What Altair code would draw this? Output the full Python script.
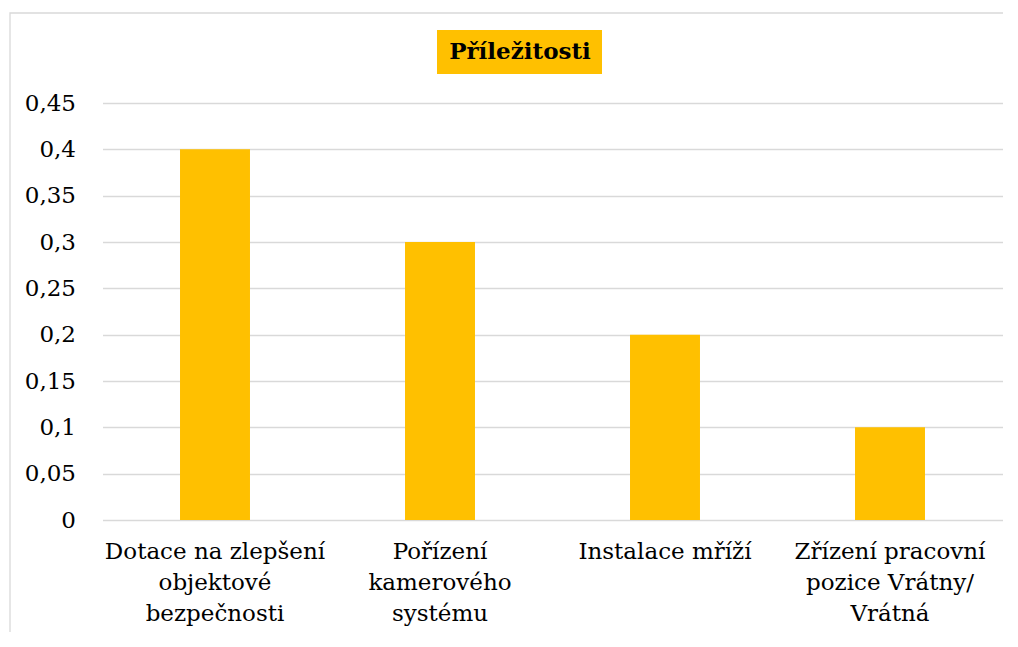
import altair as alt
import pandas as pd

categories = [
    "Dotace na zlepšení|objektové|bezpečnosti",
    "Pořízení|kamerového|systému",
    "Instalace mříží",
    "Zřízení pracovní|pozice Vrátny/|Vrátná",
]
values = [0.4, 0.3, 0.2, 0.1]
y_ticks = [0, 0.05, 0.1, 0.15, 0.2, 0.25, 0.3, 0.35, 0.4, 0.45]
title_text = "Příležitosti"

FONT = "DejaVu Serif"
BAR = "#FFC000"

df = pd.DataFrame({"cat": categories, "val": values})
one = pd.DataFrame({"t": [title_text]})

bars = alt.Chart(df).mark_bar(color=BAR).encode(
    x=alt.X(
        "cat:N",
        sort=categories,
        title=None,
        scale=alt.Scale(paddingInner=0.689, paddingOuter=0.3445),
        axis=alt.Axis(
            labelAngle=0,
            labelExpr="split(datum.label, '|')",
            labelFont=FONT,
            labelFontSize=23,
            labelColor="#000000",
            labelLineHeight=31,
            labelPadding=20,
            ticks=False,
            domain=False,
            labelLimit=400,
        ),
    ),
    y=alt.Y(
        "val:Q",
        title=None,
        scale=alt.Scale(domain=[0, 0.45], nice=False),
        axis=alt.Axis(
            values=y_ticks,
            labelExpr="replace(format(datum.value, '~g'), '.', ',')",
            labelFont=FONT,
            labelFontSize=23,
            labelColor="#000000",
            labelPadding=27,
            ticks=False,
            domain=False,
            grid=True,
            gridColor="#d9d9d9",
            gridWidth=1.3,
        ),
    ),
)

border = alt.Chart(one).mark_rect(
    fill=None, stroke="#d9d9d9", strokeWidth=1.3
).encode(
    x=alt.value(-92.5), x2=alt.value(1100), y=alt.value(-90), y2=alt.value(700)
)

title_bg = alt.Chart(one).mark_rect(color=BAR).encode(
    x=alt.value(334.5), x2=alt.value(499.5), y=alt.value(-73), y2=alt.value(-29)
)

title = alt.Chart(one).mark_text(
    font=FONT, fontSize=23, fontWeight="bold", color="#000000",
    align="center", baseline="middle"
).encode(
    x=alt.value(417.5), y=alt.value(-51), text="t:N"
)

chart = alt.layer(border, bars, title_bg, title).properties(
    width=900,
    height=417,
    padding={"left": 94.5, "top": 95, "right": 0, "bottom": 112},
    autosize=alt.AutoSizeParams(type="none"),
).configure(font=FONT).configure_view(strokeWidth=0)

chart.save("out.html", embed_options={"renderer": "svg", "actions": False})
